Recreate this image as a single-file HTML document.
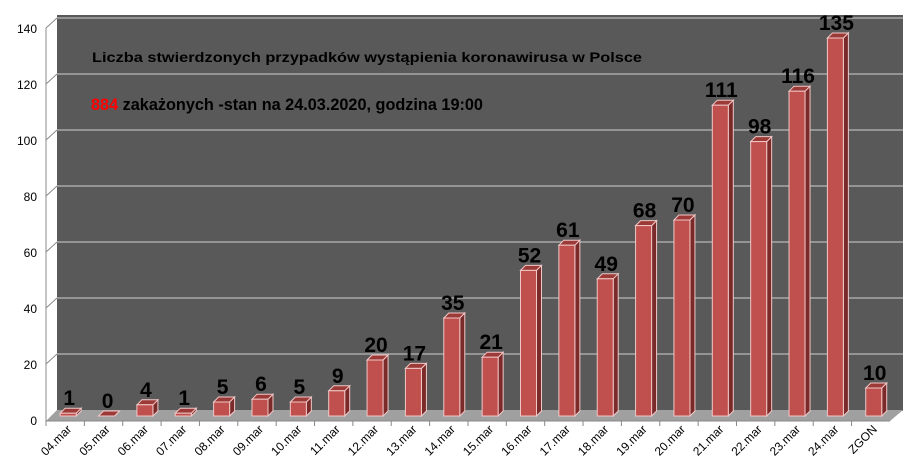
<!DOCTYPE html><html><head><style>body{margin:0;background:#fff}svg{display:block}</style></head><body>
<svg width="916" height="476" xmlns="http://www.w3.org/2000/svg" font-family="Liberation Sans, sans-serif">
<rect x="57" y="15" width="846" height="396" fill="#595959"/>
<polygon points="57,410 903,410 890,421 46,421" fill="#a0a0a0"/>
<g stroke="#a8a8a8" stroke-width="1.5">
<line x1="57" y1="354" x2="903" y2="354"/><line x1="57" y1="298" x2="903" y2="298"/><line x1="57" y1="242" x2="903" y2="242"/><line x1="57" y1="186" x2="903" y2="186"/><line x1="57" y1="130" x2="903" y2="130"/><line x1="57" y1="74" x2="903" y2="74"/><line x1="57" y1="18" x2="903" y2="18"/>
</g>
<g stroke="#888" stroke-width="1">
<line x1="46" y1="28" x2="46" y2="421"/><line x1="46" y1="421" x2="890" y2="421"/>
<line x1="46" y1="364" x2="57" y2="354"/><line x1="46" y1="308" x2="57" y2="298"/><line x1="46" y1="252" x2="57" y2="242"/><line x1="46" y1="196" x2="57" y2="186"/><line x1="46" y1="140" x2="57" y2="130"/><line x1="46" y1="84" x2="57" y2="74"/><line x1="46" y1="28" x2="57" y2="18"/>
</g>
<g font-size="12" text-anchor="end" fill="#000">
<text x="37" y="425">0</text><text x="37" y="369">20</text><text x="37" y="313">40</text><text x="37" y="257">60</text><text x="37" y="201">80</text><text x="37" y="145">100</text><text x="37" y="89">120</text><text x="37" y="33">140</text>
</g>
<text x="92" y="62" font-size="14" font-weight="bold" textLength="550" lengthAdjust="spacingAndGlyphs">Liczba stwierdzonych przypadków wystąpienia koronawirusa w Polsce</text>
<text x="91" y="110" font-size="17" font-weight="bold" textLength="392" lengthAdjust="spacingAndGlyphs"><tspan fill="#ff0000">884</tspan> zakażonych  -stan  na  24.03.2020, godzina  19:00</text>
<g id="bars"></g>
</svg>
<script>
var v=[1,0,4,1,5,6,5,9,20,17,35,21,52,61,49,68,70,111,98,116,135,10];
var lab=["04.mar","05.mar","06.mar","07.mar","08.mar","09.mar","10.mar","11.mar","12.mar","13.mar","14.mar","15.mar","16.mar","17.mar","18.mar","19.mar","20.mar","21.mar","22.mar","23.mar","24.mar","ZGON"];
var s="",step=38.36;
for(var i=0;i<22;i++){
 var cx=46+(i+0.5)*step+3, x=cx-8, w=16, b=416, t=b-2.8*v[i], d=5;
 s+='<polygon points="'+(x+w)+','+t+' '+(x+w+d)+','+(t-d)+' '+(x+w+d)+','+(b-d)+' '+(x+w)+','+b+'" fill="#7a2a28" stroke="#f0c8c8" stroke-width="1"/>';
 s+='<polygon points="'+x+','+t+' '+(x+d)+','+(t-d)+' '+(x+w+d)+','+(t-d)+' '+(x+w)+','+t+'" fill="#9b3a37" stroke="#f0c8c8" stroke-width="1"/>';
 s+='<rect x="'+x+'" y="'+t+'" width="'+w+'" height="'+(b-t)+'" fill="#c0504d" stroke="#f0c8c8" stroke-width="1"/>';
 s+='<text x="'+(cx+1)+'" y="'+(t-8)+'" font-size="21" font-weight="bold" text-anchor="middle" fill="#000">'+v[i]+'</text>';
 var tx=46+i*step;
 s+='<line x1="'+tx+'" y1="421" x2="'+tx+'" y2="426" stroke="#888"/>';
 s+='<text transform="translate('+(cx+4)+',430) rotate(-45)" font-size="12" text-anchor="end" fill="#000">'+lab[i]+'</text>';
}
document.getElementById("bars").innerHTML=s;
</script>
</body></html>
